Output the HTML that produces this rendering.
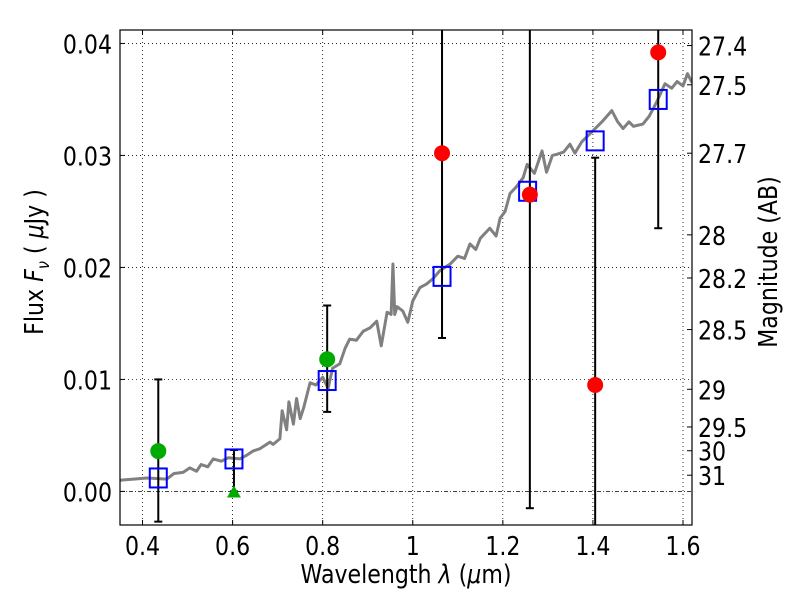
<!DOCTYPE html>
<html><head><meta charset="utf-8"><style>
body{margin:0;background:#fff}
svg text{font-family:"DejaVu Sans","Liberation Sans",sans-serif;font-size:26px;fill:#000}
</style></head><body>
<svg id="chart" width="800" height="600" xmlns="http://www.w3.org/2000/svg"></svg>
<script>
const xTicks=[0.4,0.6,0.8,1.0,1.2,1.4,1.6];
const xTickLabels=["0.4","0.6","0.8","1","1.2","1.4","1.6"];
const yTicks=[0,0.01,0.02,0.03,0.04];
const yTickLabels=["0.00","0.01","0.02","0.03","0.04"];
const magTicks=[27.4,27.5,27.7,28,28.2,28.5,29,29.5,30,31];
const specX=[0.35,0.38,0.41,0.454,0.47,0.49,0.505,0.52,0.53,0.545,0.557,0.575,0.59,0.616,0.63,0.645,0.66,0.683,0.69,0.705,0.71,0.72,0.725,0.735,0.742,0.75,0.758,0.772,0.785,0.80,0.812,0.822,0.838,0.85,0.86,0.875,0.89,0.905,0.92,0.93,0.943,0.952,0.956,0.96,0.965,0.978,0.989,1.0,1.016,1.03,1.045,1.06,1.083,1.1,1.115,1.127,1.14,1.15,1.171,1.185,1.194,1.205,1.216,1.23,1.245,1.254,1.27,1.287,1.297,1.31,1.32,1.335,1.349,1.36,1.375,1.40,1.42,1.442,1.455,1.467,1.48,1.49,1.511,1.525,1.542,1.56,1.575,1.587,1.60,1.61,1.62];
const specY=[0.0010,0.0011,0.0012,0.0011,0.0016,0.0017,0.0021,0.0018,0.0024,0.0022,0.0029,0.0027,0.0030,0.0029,0.0032,0.0036,0.0038,0.0044,0.0042,0.0047,0.0072,0.0055,0.0080,0.0060,0.0083,0.0065,0.0075,0.0097,0.0095,0.0102,0.0092,0.0110,0.0114,0.0128,0.0136,0.0135,0.0143,0.0146,0.0152,0.0130,0.0160,0.0158,0.0203,0.0158,0.0165,0.0161,0.0151,0.0170,0.0182,0.0185,0.0190,0.0197,0.0203,0.0210,0.0208,0.0221,0.0216,0.0226,0.0235,0.0228,0.0244,0.0250,0.0266,0.0272,0.0280,0.0292,0.0284,0.0304,0.0285,0.0300,0.0301,0.0303,0.0310,0.0302,0.0312,0.0322,0.0330,0.0340,0.0330,0.0324,0.0330,0.0326,0.0328,0.0335,0.0348,0.0364,0.0360,0.0366,0.0362,0.0373,0.0365];
const modelX=[0.435,0.603,0.81,1.065,1.255,1.405,1.545];
const modelY=[0.0012,0.0029,0.0099,0.0192,0.0268,0.0313,0.035];
const greenX=[0.435,0.81];
const greenY=[0.0036,0.0118];
const greenLo=[-0.0027,0.0071];
const greenHi=[0.0100,0.0166];
const limX=[0.603];
const limY=[-0.0001];
const limLo=[0.0];
const limHi=[0.0037];
const redX=[1.065,1.26,1.405,1.545];
const redY=[0.0302,0.0265,0.0095,0.0392];
const redLo=[0.0137,-0.0015,-0.01,0.0235];
const redHi=[0.06,0.06,0.0298,0.06];

const L=120,R=692,T=30,B=525,X0=0.35,X1=1.62,Y0=-0.0030,Y1=0.0412;
const sx=v=>L+(v-X0)/(X1-X0)*(R-L);
const sy=v=>B-(v-Y0)/(Y1-Y0)*(B-T);
const svg=document.getElementById('chart');
const NS='http://www.w3.org/2000/svg';
const SX=0.85;
function mk(tag,attrs,parent){const e=document.createElementNS(NS,tag);for(const k in attrs)e.setAttribute(k,attrs[k]);(parent||svg).appendChild(e);return e;}
function txt(x,y,anchor,extra){return mk('text',Object.assign({x:0,y:0,'text-anchor':anchor,transform:`translate(${x},${y}) scale(${SX},1)`},extra||{}));}
const clip=mk('clipPath',{id:'pc'});mk('rect',{x:L,y:T,width:R-L,height:B-T},clip);
const grid=mk('g',{});


xTicks.forEach((t,i)=>{const x=sx(t);
 mk('line',{x1:x,x2:x,y1:T,y2:B,stroke:'#000','stroke-width':0.8,'stroke-dasharray':'1,3'},grid);
 mk('line',{x1:x,x2:x,y1:B,y2:B-5,stroke:'#000'});mk('line',{x1:x,x2:x,y1:T,y2:T+5,stroke:'#000'});
 const tx=txt(x,B+30,'middle');tx.textContent=xTickLabels[i];
 
 
});
yTicks.forEach((t,i)=>{const y=sy(t);
 mk('line',{x1:L,x2:R,y1:y,y2:y,stroke:'#000','stroke-width':0.8,'stroke-dasharray':t===0?'4,2,1,2':'1,3'},grid);
 mk('line',{x1:L,x2:L+5,y1:y,y2:y,stroke:'#000'});
 const tx=txt(L-8,y+10,'end');tx.textContent=yTickLabels[i];
 
 
});
magTicks.forEach(m=>{const f=Math.pow(10,(23.9-m)/2.5);const y=sy(f);
 mk('line',{x1:R,x2:R-5,y1:y,y2:y,stroke:'#000'});
 const tx=txt(R+6,y+10,'start');tx.textContent=String(m);
 
 
});
const plot=mk('g',{'clip-path':'url(#pc)'});
const sp=mk('polyline',{points:specX.map((x,i)=>sx(x)+','+sy(specY[i])).join(' '),fill:'none',stroke:'#808080','stroke-width':3,'stroke-linejoin':'round'},plot);


function eb(x,lo,hi){const X=sx(x);mk('line',{x1:X,x2:X,y1:sy(lo),y2:sy(hi),stroke:'#000','stroke-width':2},plot);
 [lo,hi].forEach(v=>mk('line',{x1:X-4,x2:X+4,y1:sy(v),y2:sy(v),stroke:'#000','stroke-width':2},plot));}
greenX.forEach((x,i)=>eb(x,greenLo[i],greenHi[i]));
limX.forEach((x,i)=>eb(x,limLo[i],limHi[i]));
redX.forEach((x,i)=>eb(x,redLo[i],redHi[i]));
modelX.forEach((x,i)=>{const r=mk('rect',{x:sx(x)-8.5,y:sy(modelY[i])-9.5,width:17,height:19,fill:'none',stroke:'#0000ff','stroke-width':2},plot);
 
 });
greenX.forEach((x,i)=>{const c=mk('circle',{cx:sx(x),cy:sy(greenY[i]),r:8,fill:'#00aa00'},plot);
 
 });
limX.forEach((x,i)=>{const X=sx(x),Y=sy(limY[i]);const p=mk('polygon',{points:`${X},${Y-7} ${X-7},${Y+5} ${X+7},${Y+5}`,fill:'#00aa00'},plot);
 
 });
redX.forEach((x,i)=>{const c=mk('circle',{cx:sx(x),cy:sy(redY[i]),r:8,fill:'#ff0000'},plot);
 
 });
const fr=mk('rect',{x:L,y:T,width:R-L,height:B-T,fill:'none',stroke:'#000','stroke-width':1.2});


const xl=txt(406,583,'middle');xl.innerHTML='Wavelength  <tspan font-style="italic">λ</tspan> (<tspan font-style="italic">μ</tspan>m)';


const yl=mk('text',{x:0,y:0,'text-anchor':'middle',transform:`translate(43,262) rotate(-90) scale(${SX},1)`});yl.innerHTML='Flux  <tspan font-style="italic">F</tspan><tspan font-style="italic" font-size="17" dy="6">ν</tspan><tspan dy="-6">  ( </tspan><tspan font-style="italic">μ</tspan>Jy )';


const yr=mk('text',{x:0,y:0,'text-anchor':'middle',transform:`translate(777,262) rotate(-90) scale(${SX},1)`});yr.textContent='Magnitude (AB)';


</script>
</body></html>
